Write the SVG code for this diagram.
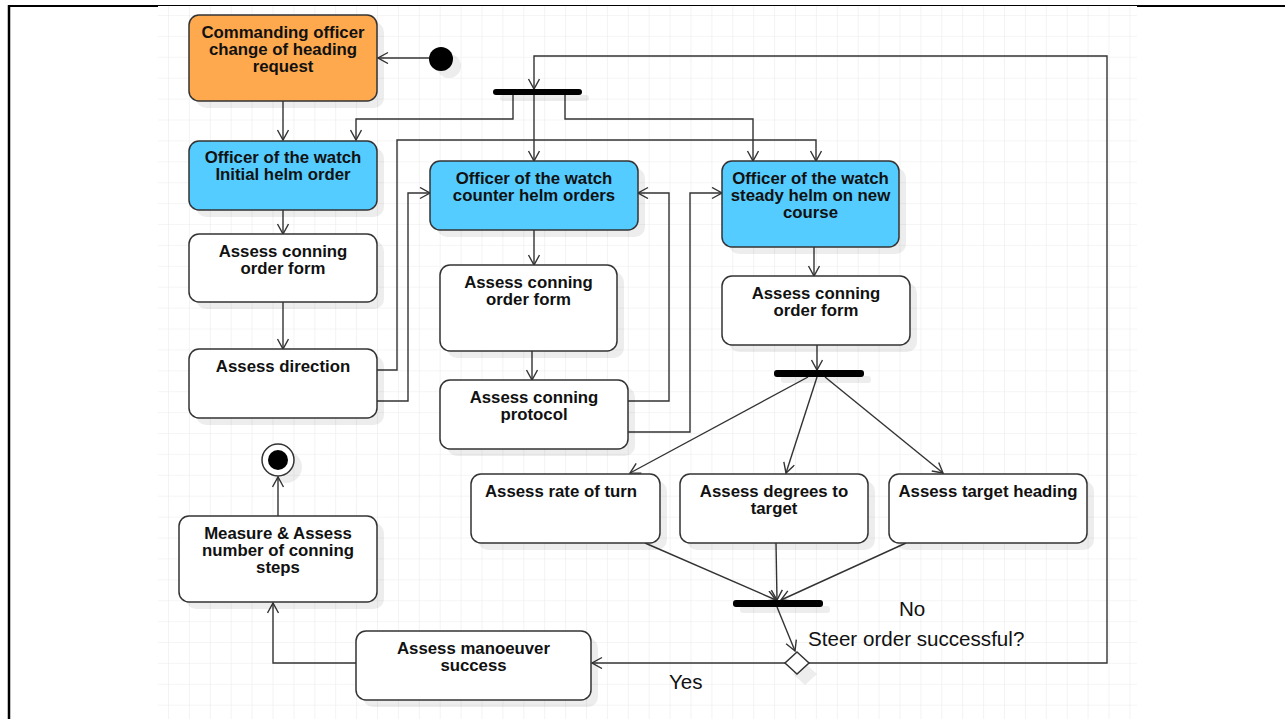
<svg xmlns="http://www.w3.org/2000/svg" width="1285" height="719" viewBox="0 0 1285 719">
<style>
.node{stroke:#333;stroke-width:1.5}
.act{fill:#fff}
.blue{fill:#55CCFF}
.orange{fill:#FFA94F}
.sh{fill:#000;opacity:0.07}
.t{font-family:"Liberation Sans",Arial,sans-serif;font-weight:bold;font-size:16.8px;fill:#111;text-anchor:middle}
.lbl{font-family:"Liberation Sans",Arial,sans-serif;font-size:20.6px;fill:#111}
.c{fill:none;stroke:#333;stroke-width:1.4;marker-end:url(#arr)}
.bar{fill:#000}
</style>
<defs>
<pattern id="grid" patternUnits="userSpaceOnUse" x="168" y="15" width="20.9" height="20.9">
<path d="M0,0 H20.9 M0,0 V20.9" stroke="#ebebeb" stroke-width="1.2" fill="none"/>
</pattern>
<marker id="arr" markerUnits="userSpaceOnUse" markerWidth="14" markerHeight="14" refX="11" refY="6" orient="auto">
<path d="M1,0.5 L11,6 L1,11.5" fill="none" stroke="#333" stroke-width="1.4"/>
</marker>
</defs>
<rect x="0" y="0" width="1285" height="719" fill="#fff"/>
<rect x="158" y="6" width="979" height="713" fill="url(#grid)"/>
<g id="frame">
<line x1="9" y1="5" x2="9" y2="719" stroke="#000" stroke-width="2.5"/>
<line x1="8" y1="6" x2="158" y2="6" stroke="#000" stroke-width="2"/>
<line x1="158" y1="5.5" x2="1137" y2="5.5" stroke="#000" stroke-width="1"/>
<line x1="1137" y1="6" x2="1285" y2="6" stroke="#000" stroke-width="2"/>
</g>
<g id="connectors">
<path class="c" d="M429,58 L378,58"/>
<path class="c" d="M283,101 L283,140"/>
<path class="c" d="M809,663 L1107,663 L1107,56 L534,56 L534,89"/>
<path class="c" d="M534,95 L534,161"/>
<path class="c" d="M513,95 L513,119 L356,119 L356,140"/>
<path class="c" d="M565,95 L565,119 L753,119 L753,161"/>
<path class="c" d="M377,370 L397,370 L397,140 L816,140 L816,161"/>
<path class="c" d="M377,401 L408,401 L408,193 L430,193"/>
<path class="c" d="M283,210 L283,234"/>
<path class="c" d="M283,302 L283,349"/>
<path class="c" d="M534,230 L534,265"/>
<path class="c" d="M532,351 L532,380"/>
<path class="c" d="M628,401 L669,401 L669,193 L638,193"/>
<path class="c" d="M628,432 L690,432 L690,193 L722,193"/>
<path class="c" d="M814,247 L814,276"/>
<path class="c" d="M817,345 L817,370"/>
<path class="c" d="M808,377 L630,473"/>
<path class="c" d="M817,377 L786,473"/>
<path class="c" d="M825,377 L943,473"/>
<path class="c" d="M645,543 L776,600"/>
<path class="c" d="M776,543 L777,600"/>
<path class="c" d="M906,543 L781,600"/>
<path class="c" d="M777,607 L795,651"/>
<path class="c" d="M785,663 L592,663"/>
<path class="c" d="M356,663 L273,663 L273,603"/>
<path class="c" d="M278,516 L278,477"/>
</g>
<g id="start">
<circle cx="449" cy="66" r="12" class="sh"/>
<circle cx="441" cy="59" r="12" fill="#000"/>
</g>
<g id="fork1">
<rect x="500" y="95" width="89" height="6" rx="3" class="sh"/>
<rect x="493" y="89" width="89" height="6" rx="3" class="bar"/>
</g>
<g id="fork2">
<rect x="781" y="376" width="90" height="7" rx="3" class="sh"/>
<rect x="774" y="370" width="90" height="7" rx="3" class="bar"/>
</g>
<g id="join">
<rect x="740" y="606" width="90" height="7" rx="3" class="sh"/>
<rect x="733" y="600" width="90" height="7" rx="3" class="bar"/>
</g>
<g id="decision">
<path d="M805,663 L817,674 L805,685 L793,674 Z" class="sh"/>
<path d="M797,652 L809,663 L797,674 L785,663 Z" fill="#fff" stroke="#333" stroke-width="1.5"/>
</g>
<g id="end">
<circle cx="286" cy="467" r="16" class="sh"/>
<circle cx="278" cy="460" r="16" fill="#fff" stroke="#333" stroke-width="1.5"/>
<circle cx="278" cy="460" r="10" fill="#000"/>
</g>
<g id="n_commanding">
<rect x="196" y="22" width="188" height="86" rx="10" class="sh"/>
<rect x="189" y="15" width="188" height="86" rx="10" class="node orange"/>
<text class="t" x="283" y="37.5">Commanding officer</text>
<text class="t" x="283" y="54.5">change of heading</text>
<text class="t" x="283" y="71.5">request</text>
</g>
<g id="n_initial">
<rect x="196" y="148" width="188" height="69" rx="10" class="sh"/>
<rect x="189" y="141" width="188" height="69" rx="10" class="node blue"/>
<text class="t" x="283" y="162.5">Officer of the watch</text>
<text class="t" x="283" y="179.5">Initial helm order</text>
</g>
<g id="n_form1">
<rect x="196" y="241" width="188" height="68" rx="10" class="sh"/>
<rect x="189" y="234" width="188" height="68" rx="10" class="node act"/>
<text class="t" x="283" y="256.5">Assess conning</text>
<text class="t" x="283" y="273.5">order form</text>
</g>
<g id="n_direction">
<rect x="196" y="356" width="188" height="69" rx="10" class="sh"/>
<rect x="189" y="349" width="188" height="69" rx="10" class="node act"/>
<text class="t" x="283" y="371.5">Assess direction</text>
</g>
<g id="n_counter">
<rect x="437" y="168" width="208" height="69" rx="10" class="sh"/>
<rect x="430" y="161" width="208" height="69" rx="10" class="node blue"/>
<text class="t" x="534" y="183.5">Officer of the watch</text>
<text class="t" x="534" y="200.5">counter helm orders</text>
</g>
<g id="n_steady">
<rect x="729" y="168" width="177" height="86" rx="10" class="sh"/>
<rect x="722" y="161" width="177" height="86" rx="10" class="node blue"/>
<text class="t" x="810.5" y="183.5">Officer of the watch</text>
<text class="t" x="810.5" y="200.5">steady helm on new</text>
<text class="t" x="810.5" y="217.5">course</text>
</g>
<g id="n_form2">
<rect x="447" y="272" width="177" height="86" rx="10" class="sh"/>
<rect x="440" y="265" width="177" height="86" rx="10" class="node act"/>
<text class="t" x="528.5" y="287.5">Assess conning</text>
<text class="t" x="528.5" y="304.5">order form</text>
</g>
<g id="n_protocol">
<rect x="447" y="387" width="188" height="69" rx="10" class="sh"/>
<rect x="440" y="380" width="188" height="69" rx="10" class="node act"/>
<text class="t" x="534" y="402.5">Assess conning</text>
<text class="t" x="534" y="419.5">protocol</text>
</g>
<g id="n_form3">
<rect x="729" y="283" width="188" height="69" rx="10" class="sh"/>
<rect x="722" y="276" width="188" height="69" rx="10" class="node act"/>
<text class="t" x="816" y="298.5">Assess conning</text>
<text class="t" x="816" y="315.5">order form</text>
</g>
<g id="n_rate">
<rect x="478" y="481" width="189" height="69" rx="10" class="sh"/>
<rect x="471" y="474" width="189" height="69" rx="10" class="node act"/>
<text class="t" x="561" y="496.5">Assess rate of turn</text>
</g>
<g id="n_degrees">
<rect x="687" y="481" width="188" height="69" rx="10" class="sh"/>
<rect x="680" y="474" width="188" height="69" rx="10" class="node act"/>
<text class="t" x="774" y="496.5">Assess degrees to</text>
<text class="t" x="774" y="513.5">target</text>
</g>
<g id="n_target">
<rect x="896" y="481" width="198" height="69" rx="10" class="sh"/>
<rect x="889" y="474" width="198" height="69" rx="10" class="node act"/>
<text class="t" x="988" y="496.5">Assess target heading</text>
</g>
<g id="n_measure">
<rect x="186" y="523" width="198" height="86" rx="10" class="sh"/>
<rect x="179" y="516" width="198" height="86" rx="10" class="node act"/>
<text class="t" x="278" y="538.5">Measure &amp; Assess</text>
<text class="t" x="278" y="555.5">number of conning</text>
<text class="t" x="278" y="572.5">steps</text>
</g>
<g id="n_manoeuver">
<rect x="363" y="638" width="235" height="69" rx="10" class="sh"/>
<rect x="356" y="631" width="235" height="69" rx="10" class="node act"/>
<text class="t" x="473.5" y="653.5">Assess manoeuver</text>
<text class="t" x="473.5" y="670.5">success</text>
</g>
<g id="labels">
<text class="lbl" x="899" y="616">No</text>
<text class="lbl" x="808" y="646">Steer order successful?</text>
<text class="lbl" x="669" y="689">Yes</text>
</g>
</svg>
